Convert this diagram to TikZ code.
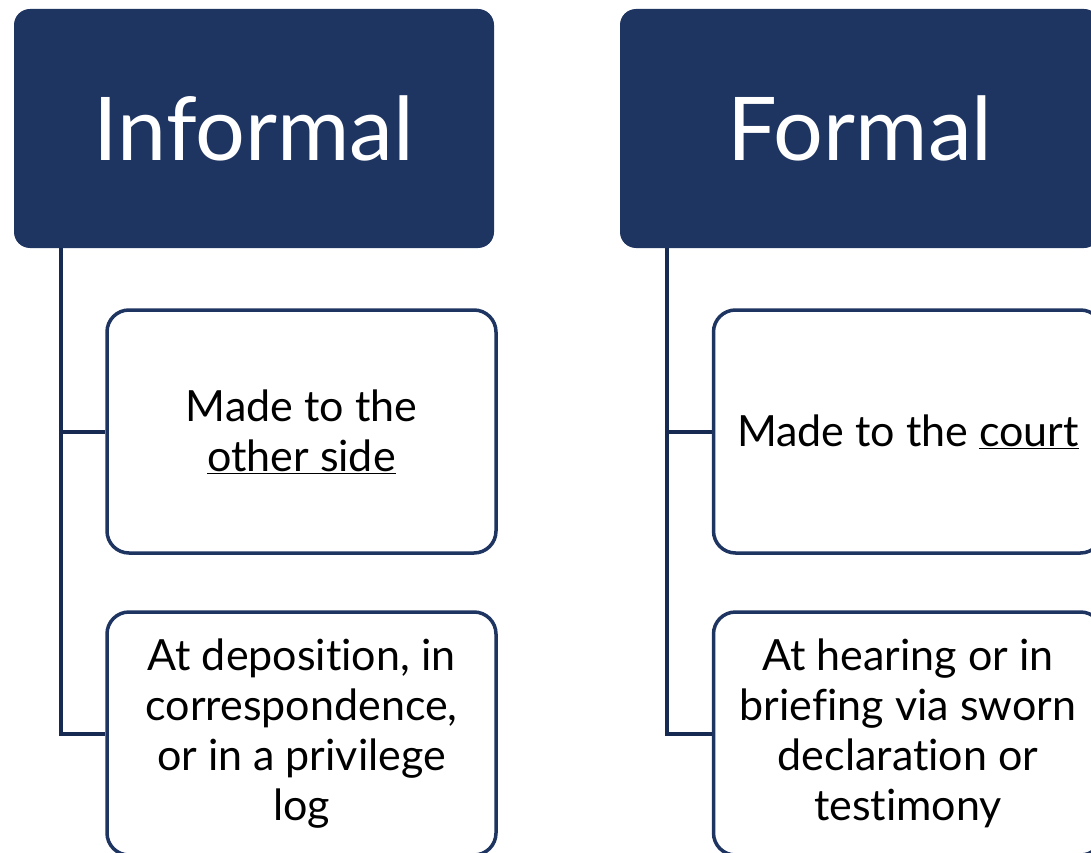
\documentclass[tikz,border=0pt]{standalone}
\usepackage{fontspec}
\setmainfont{Lato}[Ligatures=NoCommon]
\definecolor{navy}{HTML}{1E3461}
\definecolor{darknavy}{HTML}{172B52}
\tikzset{
    head/.style={fill=navy, draw=none, rounded corners=16pt, minimum width=480pt,
        minimum height=239pt, text=white, font=\fontsize{88}{100}\selectfont},
    item/.style={fill=white, draw=navy, line width=3.5pt, rounded corners=22pt,
        minimum width=389pt, minimum height=243pt, align=center,
        font=\fontsize{43}{50}\selectfont},
    conn/.style={draw=darknavy, line width=4pt}
}
\begin{document}
\begin{tikzpicture}[x=1pt,y=-1pt]
        \useasboundingbox (0,0) rectangle (1091,853);
        \clip (0,0) rectangle (1091,853);
        % left column
        \node [head] (inf) at (254,128.5) {Informal};
        \coordinate (infroot) at ([xshift=47pt]inf.south west);
        \node [item] (infa) at (301.5,431.5) {Made to the\\\underline{other side}};
        \node [item] (infb) at (301.5,733.5) {At deposition, in\\correspondence,\\or in a privilege\\log};
        \draw [conn] (infroot) |- (infa.west);
        \draw [conn] (infroot) |- (infb.west);
        % right column
        \node [head] (form) at (860,128.5) {Formal};
        \coordinate (formroot) at ([xshift=47pt]form.south west);
        \node [item] (forma) at (908,431.5) {Made to the \underline{court}};
        \node [item] (formb) at (908,733.5) {At hearing or in\\briefing via sworn\\declaration or\\testimony};
        \draw [conn] (formroot) |- (forma.west);
        \draw [conn] (formroot) |- (formb.west);
    \end{tikzpicture}
\end{document}
